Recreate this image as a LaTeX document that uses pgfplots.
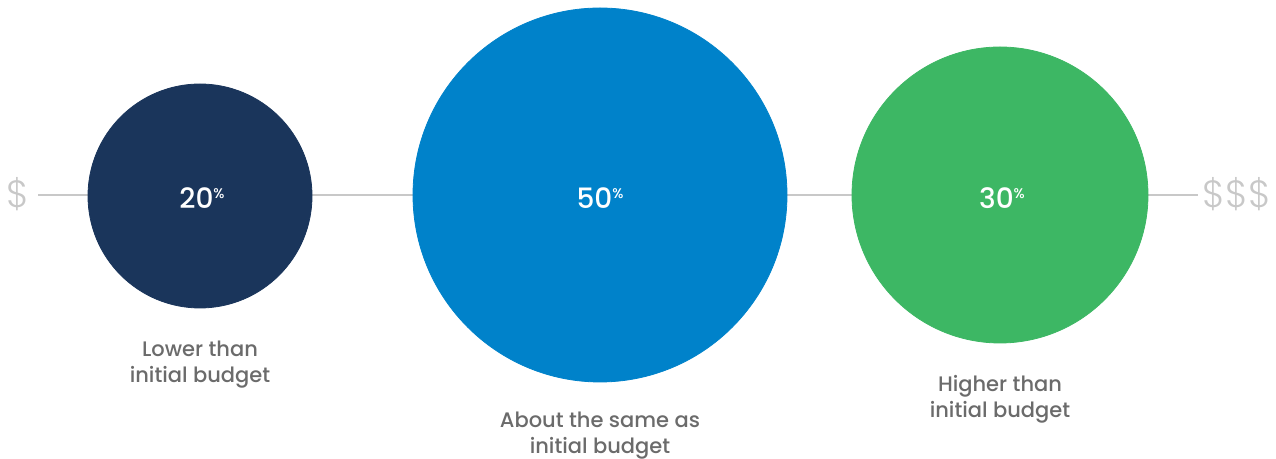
\documentclass[border=0pt]{standalone}
\usepackage{pgfplots}
\pgfplotsset{compat=1.18}
\usepackage{fontspec}
\setmainfont{Poppins}[UprightFont=* Medium]
\newfontfamily\lightfont{Poppins Light}
\definecolor{navy}{HTML}{1A355B}
\definecolor{cblue}{HTML}{0082CA}
\definecolor{cgreen}{HTML}{3DB764}
\definecolor{labgray}{HTML}{6B6B6B}
\definecolor{linegray}{HTML}{C8C8C8}
\begin{document}
\begin{tikzpicture}
\begin{axis}[
  set layers,
  width=638pt, height=229.5pt, scale only axis,
  xmin=0, xmax=1276, ymin=0, ymax=459, y dir=reverse,
  hide axis, clip=false,
]
\addplot[linegray, line width=1pt, forget plot] coordinates {(38,195) (1198,195)};
\addplot[only marks, mark=*, mark size=56pt, color=navy, mark options={draw=none, fill=navy}] coordinates {(200,196)};
\addplot[only marks, mark=*, mark size=93.5pt, color=cblue, mark options={draw=none, fill=cblue}] coordinates {(600,195)};
\addplot[only marks, mark=*, mark size=74pt, color=cgreen, mark options={draw=none, fill=cgreen}] coordinates {(1000,195)};
\begin{pgfonlayer}{axis foreground}
\node[white, font=\fontsize{14}{16}\selectfont] at (axis cs:202,198) {20\raisebox{0.65ex}{\fontsize{7}{8}\selectfont\%}};
\node[white, font=\fontsize{14}{16}\selectfont] at (axis cs:600,198) {50\raisebox{0.65ex}{\fontsize{7}{8}\selectfont\%}};
\node[white, font=\fontsize{14}{16}\selectfont] at (axis cs:1002,198) {30\raisebox{0.65ex}{\fontsize{7}{8}\selectfont\%}};
\end{pgfonlayer}
\node[linegray, font=\lightfont\fontsize{19}{20}\selectfont] at (axis cs:18,194) {\$};
\node[linegray, font=\lightfont\fontsize{19}{20}\selectfont] at (axis cs:1237,194) {\$\$\$};
\node[labgray, align=center, font=\fontsize{10.5}{13}\selectfont] at (axis cs:200,365) {Lower than\\initial budget};
\node[labgray, align=center, font=\fontsize{10.5}{13}\selectfont] at (axis cs:600,436) {About the same as\\initial budget};
\node[labgray, align=center, font=\fontsize{10.5}{13}\selectfont] at (axis cs:1000,399) {Higher than\\initial budget};
\coordinate (bl) at (axis cs:0,459);
\coordinate (tr) at (axis cs:1276,0);
\end{axis}
\pgfresetboundingbox
\useasboundingbox (bl) rectangle (tr);
\end{tikzpicture}
\end{document}
